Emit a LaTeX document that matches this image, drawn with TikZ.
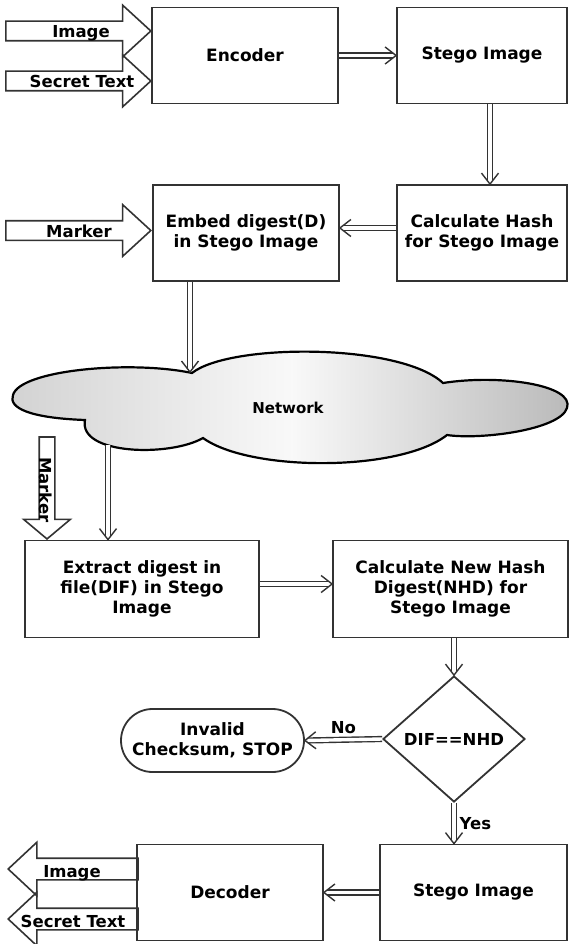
\documentclass[tikz,border=0pt]{standalone}
\usepackage{fontspec}
\setmainfont{DejaVu Sans}
\usetikzlibrary{decorations.markings,shapes.geometric,shapes.misc,shapes.arrows}

\tikzset{
  box/.style={draw=black!80, line width=1.8pt, minimum width=186pt, minimum height=96pt,
    inner sep=0pt, align=center, font=\fontsize{17}{20}\selectfont\bfseries},
  conn/.style={draw=black!80, line width=1.4pt, double=white, double distance=3.4pt, shorten >=3pt,
    postaction={decorate, decoration={markings, mark=at position 1 with {
      \draw [black!80, line width=1.4pt, shorten >=0pt, line join=miter]
        ( -11pt, 8.5pt ) -- ( 0pt, 0pt ) -- ( -11pt, -8.5pt );}}}},
  blk/.style={single arrow, draw=black!80, line width=1.6pt, inner xsep=0pt, inner ysep=9pt,
    single arrow head extend=16pt, single arrow tip angle=85},
  lbl/.style={font=\fontsize{16.5}{18}\selectfont\bfseries, inner sep=0pt}
}

\begin{document}
\begin{tikzpicture}[x=1pt, y=-1pt]
  \useasboundingbox ( 0, 0 ) rectangle ( 582, 944 );

  % блоки
  \node [box] (enc) at ( 245, 55.5 ) {Encoder};
  \node [box, minimum width=170pt] (stego) at ( 482, 55.5 ) {Stego Image};
  \node [box, minimum width=170pt] (hash) at ( 482, 233 ) {Calculate Hash\\for Stego Image};
  \node [box] (embed) at ( 246, 233 ) {Embed digest(D)\\in Stego Image};
  \node [box, minimum width=234pt, minimum height=97pt] (extr) at ( 142, 589 ) {Extract digest in\\file(DIF) in Stego\\Image};
  \node [box, minimum width=235pt, minimum height=97pt] (nhash) at ( 450.5, 589 ) {Calculate New Hash\\Digest(NHD) for\\Stego Image};
  \node [diamond, draw=black!80, line width=1.8pt, inner sep=0pt, aspect=1.13,
    minimum width=142pt, minimum height=126pt, lbl] (chk) at ( 454, 739 ) {DIF==NHD};
  \node [rounded rectangle, draw=black!80, line width=1.8pt, inner sep=0pt, align=center,
    minimum width=183pt, minimum height=63pt, font=\fontsize{17}{20}\selectfont\bfseries] (stop) at ( 212.5, 740.5 ) {Invalid\\Checksum, STOP};
  \node [box] (dec) at ( 230, 892.5 ) {Decoder};
  \node [box, minimum width=187pt] (stego2) at ( 473.5, 892.5 ) {Stego Image};

  % облако
  \shadedraw [line width=2.2pt, left color=gray!35, right color=gray!55, middle color=gray!5]
    ( 13, 395 ) .. controls ( 20, 370 ) and ( 130, 360 ) .. ( 192, 373 )
    .. controls ( 230, 343 ) and ( 400, 343 ) .. ( 443, 383 )
    .. controls ( 500, 374 ) and ( 575, 385 ) .. ( 567, 408 )
    .. controls ( 560, 430 ) and ( 480, 440 ) .. ( 447, 435 )
    .. controls ( 400, 472 ) and ( 250, 472 ) .. ( 203, 438 )
    .. controls ( 170, 457 ) and ( 78, 455 ) .. ( 85, 420 )
    .. controls ( 30, 418 ) and ( 8, 408 ) .. cycle;
  \node [lbl, font=\fontsize{15}{17}\selectfont\bfseries] (net) at ( 288, 408 ) {Network};
  \coordinate (netin) at ( 190, 372 );
  \coordinate (netout) at ( 108, 445 );

  % входы и выходы
  \node [blk, minimum height=145pt, anchor=tip] (imgin) at ( 152, 31 ) {};
  \node [blk, minimum height=145pt, anchor=tip] (secin) at ( 152, 81 ) {};
  \node [blk, minimum height=145pt, anchor=tip] (mrkin) at ( 152, 230.5 ) {};
  \node [blk, rotate=-90, inner ysep=7pt, single arrow head extend=15.5pt, single arrow tip angle=100,
    minimum height=102pt, anchor=tip] (mrkdown) at ( 47, 540 ) {};
  \node [blk, rotate=180, inner ysep=10pt, single arrow tip angle=86, minimum height=130pt, anchor=tip] (imgout) at ( 7, 869 ) {};
  \node [blk, rotate=180, inner ysep=10pt, single arrow tip angle=86, minimum height=130pt, anchor=tip] (secout) at ( 7, 919 ) {};

  \node [lbl, anchor=base] (imgintxt) at ( 81, 38 ) {Image};
  \node [lbl, anchor=base] (secintxt) at ( 82, 88 ) {Secret Text};
  \node [lbl, anchor=base] (mrkintxt) at ( 79, 237 ) {Marker};
  \node [lbl, rotate=-90] (mrkdowntxt) at ( 46, 490 ) {Marker};
  \node [lbl, anchor=base] (imgouttxt) at ( 72, 877 ) {Image};
  \node [lbl, anchor=base] (secouttxt) at ( 73, 927 ) {Secret Text};

  % связи
  \draw [conn] (enc.east) -- (stego.west);
  \draw [conn] ([xshift=8pt]stego.south) -- ([xshift=8pt]hash.north);
  \draw [conn] ([yshift=5pt]hash.west) -- ([yshift=5pt]embed.east);
  \draw [conn] (embed.south -| netin) -- (netin);
  \draw [conn] (netout) -- (netout |- extr.north);
  \draw [conn] ([yshift=5pt]extr.east) -- ([yshift=5pt]nhash.west);
  \draw [conn] (nhash.south -| chk.north) -- (chk.north);
  \draw [conn] (chk.west) -- (stop.east) node [lbl, midway, above=5pt] {No};
  \draw [conn] (chk.south) -- (chk.south |- stego2.north) node [lbl, midway, right=5pt] {Yes};
  \draw [conn] (stego2.west) -- (dec.east);
\end{tikzpicture}
\end{document}
